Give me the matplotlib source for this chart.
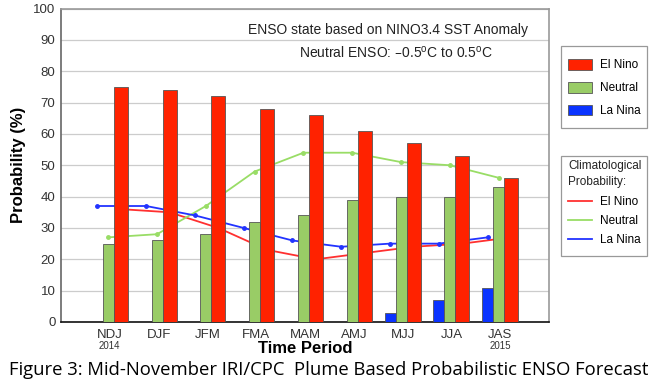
import matplotlib
matplotlib.use("Agg")
import matplotlib.pyplot as plt
from matplotlib.patches import Patch, Rectangle
from matplotlib.lines import Line2D
import numpy as np

# data
periods = ["NDJ", "DJF", "JFM", "FMA", "MAM", "AMJ", "MJJ", "JJA", "JAS"]
el_nino = [75, 74, 72, 68, 66, 61, 57, 53, 46]
neutral = [25, 26, 28, 32, 34, 39, 40, 40, 43]
la_nina = [0, 0, 0, 0, 0, 0, 3, 7, 11]
clim_el_nino = [36, 35, 30, 23, 20, 22, 24, 25, 27]
clim_neutral = [27, 28, 37, 48, 54, 54, 51, 50, 46]
clim_la_nina = [37, 37, 34, 30, 26, 24, 25, 25, 27]

RED = "#ff2200"
GREEN = "#99cc66"
BLUE = "#0a33ff"
LRED = "#ff3030"
LGREEN = "#99dd66"
LBLUE = "#2233ff"

plt.rcParams["font.family"] = ["Liberation Sans", "DejaVu Sans"]

W, H = 657, 385
fig = plt.figure(figsize=(W / 100, H / 100), dpi=100)
ax = fig.add_axes([61 / W, 1 - 322 / H, 488 / W, 313.5 / H])

x = np.arange(1, len(periods) + 1)
wb = 0.225
wr = 0.287
xb = x - 0.369 + wb / 2
xg = x - 0.144 + wb / 2
xr = x + 0.081 + wr / 2

# climatology lines sit behind the bars
ax.plot(xr, clim_el_nino, color=LRED, lw=1.3, zorder=2)
ax.plot(xg, clim_neutral, color=LGREEN, lw=1.3, marker="o", ms=2.5, zorder=2)
ax.plot(xb, clim_la_nina, color=LBLUE, lw=1.3, marker="o", ms=2.5, zorder=2)

ec = "#555555"
ax.bar(xb, la_nina, width=wb, color=BLUE, edgecolor=[ec if v > 0 else "none" for v in la_nina], lw=0.6, zorder=3)
ax.bar(xg, neutral, width=wb, color=GREEN, edgecolor=ec, lw=0.6, zorder=3)
ax.bar(xr, el_nino, width=wr, color=RED, edgecolor=ec, lw=0.6, zorder=3)

ax.set_xlim(0, 10)
ax.set_ylim(0, 100)
ax.set_yticks(range(0, 101, 10))
ax.yaxis.grid(True, color="#cccccc", lw=0.9, zorder=0)
ax.set_axisbelow(True)
ax.tick_params(axis="y", length=0, labelsize=9.5, labelcolor="#333333", pad=4)
ax.set_xticks(x)
ax.set_xticklabels(periods, fontsize=9.5, color="#333333")
ax.tick_params(axis="x", length=0, pad=5)

for s in ["top", "right"]:
    ax.spines[s].set_color("#999999")
    ax.spines[s].set_linewidth(1.2)
ax.spines["left"].set_color("#666666")
ax.spines["left"].set_linewidth(1.2)
ax.spines["bottom"].set_color("#111111")
ax.spines["bottom"].set_linewidth(1.2)

ax.text(x[0], -0.077, "2014", transform=ax.get_xaxis_transform(), ha="center", va="center", fontsize=7, color="#333333")
ax.text(x[-1], -0.077, "2015", transform=ax.get_xaxis_transform(), ha="center", va="center", fontsize=7, color="#333333")

ax.set_xlabel("Time Period", fontsize=12, fontweight="bold", labelpad=0)
ax.set_ylabel("Probability (%)", fontsize=12, fontweight="bold", labelpad=5)

ax.text(0.670, 0.931, "ENSO state based on NINO3.4 SST Anomaly", transform=ax.transAxes,
        ha="center", va="center", fontsize=10, color="#222222")
ax.text(0.686, 0.858, "Neutral ENSO: \u20130.5$^\\mathregular{o}$C to 0.5$^\\mathregular{o}$C", transform=ax.transAxes,
        ha="center", va="center", fontsize=10, color="#222222")

# legend frames drawn by hand so they sit where the reference has them
for (x0, y0, x1, y1) in [(561, 46, 647, 128), (561, 156, 647, 256)]:
    fig.patches.append(Rectangle((x0 / W, 1 - y1 / H), (x1 - x0) / W, (y1 - y0) / H,
                                 transform=fig.transFigure, fill=False,
                                 edgecolor="#999999", lw=0.9))

h1 = [Patch(facecolor=RED, edgecolor=ec, lw=0.6),
      Patch(facecolor=GREEN, edgecolor=ec, lw=0.6),
      Patch(facecolor=BLUE, edgecolor=ec, lw=0.6)]
fig.legend(h1, ["El Nino", "Neutral", "La Nina"], loc="upper left",
           bbox_to_anchor=(568 / W, 1 - 59 / H), fontsize=8.5, frameon=False,
           handlelength=2.0, handleheight=1.0, labelspacing=0.9,
           borderpad=0, borderaxespad=0, handletextpad=0.7)

fig.text(568 / W, 1 - 160 / H, "Climatological\nProbability:", ha="left", va="top",
         fontsize=8.5, linespacing=1.45, color="#222222")

h2 = [Line2D([], [], color=LRED, lw=1.3),
      Line2D([], [], color=LGREEN, lw=1.3),
      Line2D([], [], color=LBLUE, lw=1.3)]
fig.legend(h2, ["El Nino", "Neutral", "La Nina"], loc="upper left",
           bbox_to_anchor=(568 / W, 1 - 196 / H), fontsize=8.5,
           frameon=False, handlelength=2.0,
           labelspacing=0.6, borderpad=0, borderaxespad=0, handletextpad=0.7)

fig.text(0.5, 1 - 370 / H, "Figure 3: Mid-November IRI/CPC  Plume Based Probabilistic ENSO Forecast",
         ha="center", va="center", fontsize=13.3, family=["Open Sans", "DejaVu Sans"])

fig.savefig("out.png", dpi=100)
